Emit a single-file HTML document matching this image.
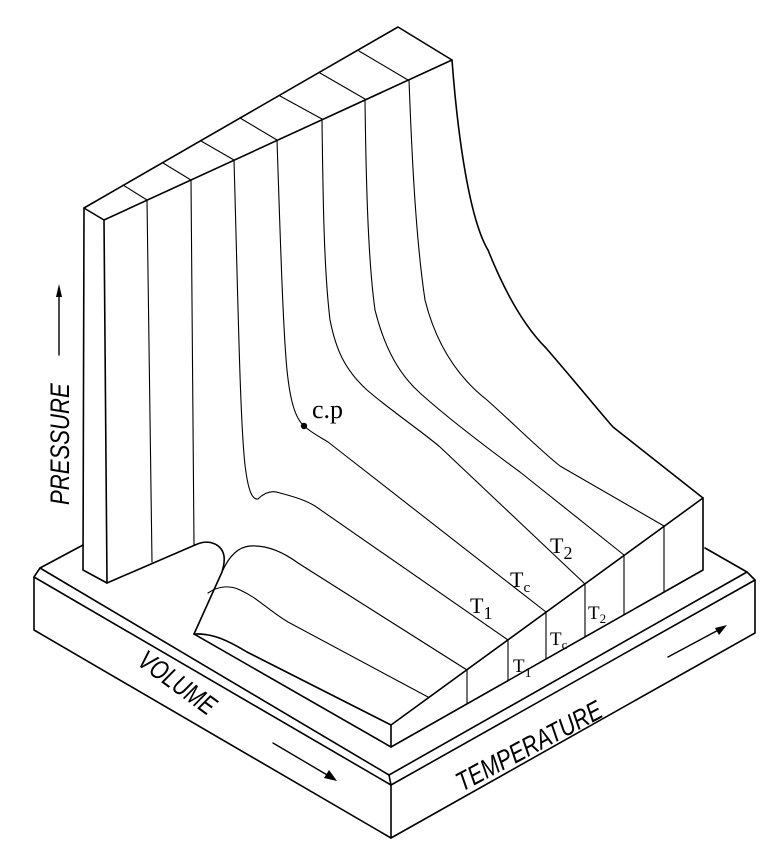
<!DOCTYPE html>
<html><head><meta charset="utf-8"><style>html,body{margin:0;padding:0;background:#fff}svg{display:block}</style></head>
<body>
<svg width="772" height="856" viewBox="0 0 772 856" xmlns="http://www.w3.org/2000/svg">
<g fill="none" stroke="#000" stroke-width="1.6" stroke-linejoin="round" stroke-linecap="round">
<!-- base slab -->
<path d="M83,545 L40,568 L389,775 L747,572 L705,548"/>
<path d="M40,568 L34,577 L391,785 L755,580 L747,572"/>
<path d="M389,775 L391,785"/>
<path d="M34,577 L34,630 L391,838 L755,633 L755,580"/>
<path d="M391,785 L391,838"/>
<!-- wall -->
<path d="M84,208 L83,570 L107,583 L104,220 Z"/>
<path d="M84,208 L398,27 L452,60 L104,220"/>
<path d="M107,583 L195,545"/>
<!-- top ticks -->
<path stroke-width="1.1" d="M123,185 L147,200 M163,163 L191,180 M201,141 L234,160 M240,118 L277,140 M280,96 L322,119 M320,73 L365,99 M359,51 L408,80"/>
<!-- block right face -->
<path d="M194,634 L391,747 L703,570 L703,498"/>
<path d="M391,725 L391,747 M391,725 L703,498"/>
<!-- big outer curve -->
<path d="M452,60 C458,140 470,220 488,250 C508,300 528,330 546,348 C578,385 598,410 613,427 L703,498"/>
<!-- right face verticals -->
<path stroke-width="1.1" d="M467,670 L467,704 M508,640 L508,681 M546,612 L546,659 M585,584 L585,637 M624,555 L624,615 M664,526 L664,592"/>
<!-- isotherms -->
<g stroke-width="1.1">
<path d="M147,200 L152,562"/>
<path d="M191,180 L194,545"/>
<path d="M234,160 C238,300 240,420 245,465 C248,490 252,500 258,499 C265,492 272,490 280,493 C295,497 305,500 315,506 L508,640"/>
<path d="M277,140 C280,230 283,330 287,370 C290,400 295,418 304,426 C312,433 318,436 328,442 L546,612"/>
<path d="M322,120 C323,200 324,270 330,320 C336,350 345,370 367,390 C390,410 420,430 440,447 L585,584"/>
<path d="M365,100 C366,180 368,260 375,310 C385,350 400,375 420,393 C450,420 490,450 520,472 L624,555"/>
<path d="M409,80 C412,160 416,240 425,300 C435,340 455,375 487,400 C515,425 540,450 560,466 L664,526"/>
</g>
<!-- dome -->
<path d="M195,545 C210,538 222,545 224,556 C225,563 223,568 222,572 L194,634"/>
<path stroke-width="1.2" d="M222,572 C229,556 238,547 250,546 C266,545 283,552 298,563 L467,670"/>
<path stroke-width="1.1" d="M208,593 C218,586 230,585 240,590 C258,598 268,610 288,622 L428,697"/>
<path d="M194,634 C212,633 227,640 247,652 L391,725"/>
<!-- arrows -->
<path stroke-width="1.4" d="M273,743 L334,779 M59,355 L59,290"/>
<path stroke-width="1.4" d="M668,657 L724,627"/>
</g>
<g fill="#000">
<path d="M337,781 L324,778 L329,770 Z"/>
<path d="M59,284 L56,297 L62,297 Z"/>
<path d="M727,625 L719,635 L715,628 Z"/>
<circle cx="304" cy="426" r="3.2"/>
</g>
<g font-family="Liberation Serif, serif" fill="#000">
<text x="312" y="418" font-size="26">c.p</text>
<text x="470" y="613" font-size="22">T<tspan font-size="18" dy="6">1</tspan></text>
<text x="510" y="587" font-size="22">T<tspan font-size="15" dy="5">c</tspan></text>
<text x="550" y="553" font-size="22">T<tspan font-size="18" dy="6">2</tspan></text>
<text x="513" y="672" font-size="19">T<tspan font-size="14" dy="5">1</tspan></text>
<text x="550" y="645" font-size="19">T<tspan font-size="13" dy="4">c</tspan></text>
<text x="588" y="619" font-size="19">T<tspan font-size="13" dy="4">2</tspan></text>
</g>
<g font-family="Liberation Sans, sans-serif" fill="#000" font-style="italic" font-size="27">
<text transform="translate(136,664) rotate(36) scale(0.78,1)">VOLUME</text>
<text transform="translate(462,792) rotate(-28) scale(0.8,1)">TEMPERATURE</text>
<text transform="translate(69,505) rotate(-90) scale(0.82,1)">PRESSURE</text>
</g>
</svg>
</body></html>
